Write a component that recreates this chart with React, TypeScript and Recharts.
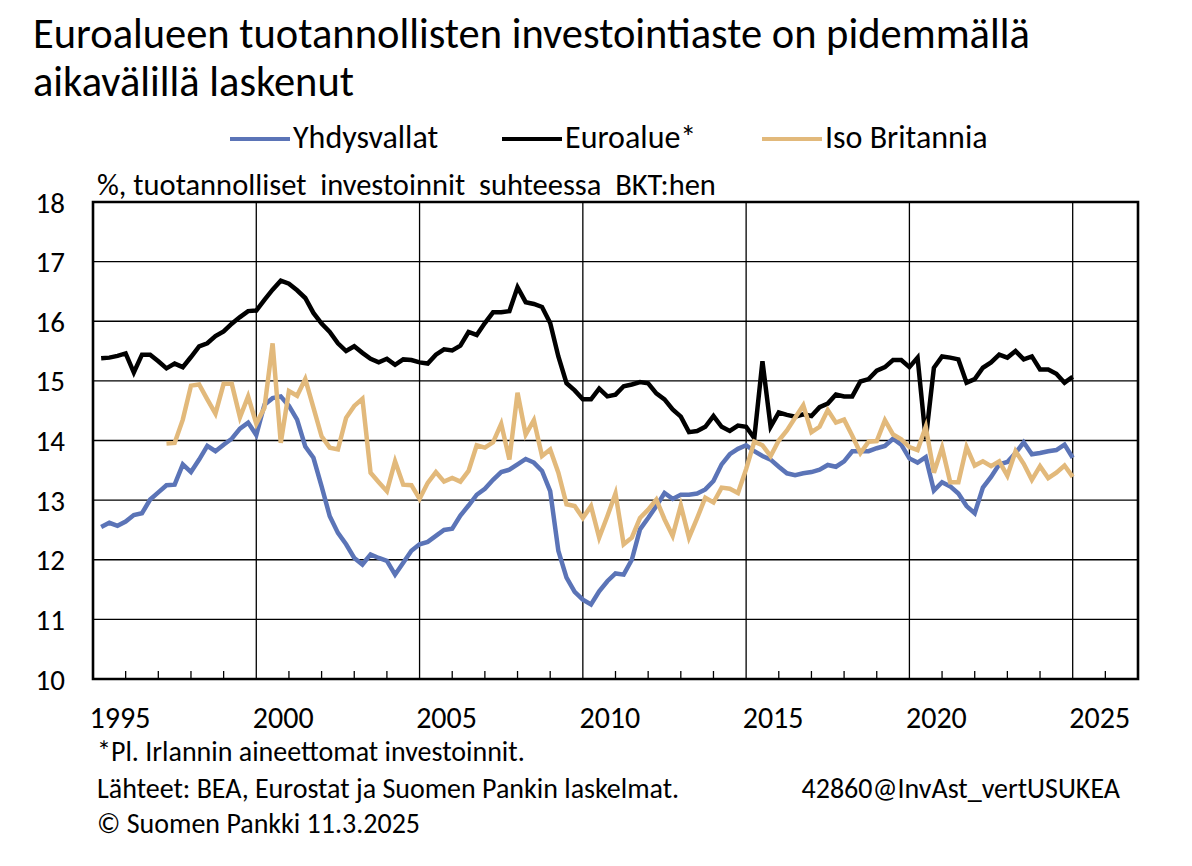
import { LineChart, Line, XAxis, YAxis, CartesianGrid, ReferenceLine, ReferenceArea } from 'recharts'

const FONT = 'Calibri, Carlito, Lato, "Open Sans", sans-serif'

// neljännesvuosittain 1995Q1–2024Q4, % suhteessa BKT:hen
const firstYear = 1995

const usValues = [
    12.55, 12.62, 12.57, 12.64, 12.75, 12.78, 13.01, 13.13, 13.25, 13.26, 13.6, 13.47,
    13.68, 13.91, 13.82, 13.93, 14.03, 14.2, 14.3, 14.09, 14.6, 14.71, 14.74, 14.58,
    14.35, 13.9, 13.71, 13.23, 12.73, 12.45, 12.26, 12.03, 11.92, 12.09, 12.03, 11.98,
    11.75, 11.95, 12.15, 12.26, 12.3, 12.4, 12.5, 12.52, 12.74, 12.91, 13.09, 13.19,
    13.34, 13.47, 13.51, 13.6, 13.69, 13.63, 13.49, 13.15, 12.15, 11.7, 11.46, 11.33,
    11.25, 11.47, 11.64, 11.77, 11.75, 12.0, 12.51, 12.7, 12.9, 13.12, 13.02, 13.09,
    13.09, 13.11, 13.18, 13.32, 13.6, 13.77, 13.86, 13.92, 13.82, 13.74, 13.68, 13.56,
    13.45, 13.42, 13.45, 13.47, 13.51, 13.59, 13.56, 13.65, 13.82, 13.82, 13.82, 13.87,
    13.91, 14.03, 13.93, 13.7, 13.63, 13.72, 13.16, 13.3, 13.23, 13.11, 12.9, 12.78,
    13.21, 13.39, 13.6, 13.64, 13.79, 13.97, 13.77, 13.79, 13.82, 13.84, 13.93, 13.71,
]

const euroValues = [
    15.38, 15.39, 15.42, 15.46, 15.14, 15.44, 15.44, 15.33, 15.21, 15.29, 15.23, 15.4,
    15.58, 15.63, 15.75, 15.83, 15.96, 16.07, 16.17, 16.18, 16.36, 16.53, 16.68, 16.63,
    16.52, 16.39, 16.14, 15.96, 15.82, 15.63, 15.5, 15.58, 15.47, 15.37, 15.31, 15.37,
    15.27, 15.36, 15.35, 15.31, 15.29, 15.44, 15.53, 15.51, 15.59, 15.82, 15.77, 15.97,
    16.15, 16.15, 16.17, 16.57, 16.32, 16.29, 16.24, 15.97, 15.41, 14.96, 14.84, 14.69,
    14.69, 14.87, 14.74, 14.77, 14.91, 14.94, 14.98, 14.96, 14.79, 14.69, 14.52, 14.4,
    14.14, 14.16, 14.23, 14.41, 14.23, 14.16, 14.25, 14.23, 14.04, 15.33, 14.23, 14.47,
    14.43, 14.4, 14.44, 14.41, 14.56, 14.62, 14.77, 14.74, 14.74, 14.99, 15.03, 15.17,
    15.23, 15.35, 15.35, 15.23, 15.39, 14.02, 15.22, 15.41, 15.39, 15.36, 14.97, 15.03,
    15.22, 15.31, 15.44, 15.39, 15.5, 15.36, 15.41, 15.19, 15.19, 15.12, 14.97, 15.07,
]

// Iso-Britannia alkaa 1997Q1
const ukStartIndex = 8
const ukValues = [
    13.95, 13.96, 14.35, 14.92, 14.94, 14.69, 14.45, 14.95, 14.95, 14.39, 14.74, 14.28,
    14.55, 15.63, 13.96, 14.83, 14.75, 15.03, 14.55, 14.07, 13.88, 13.85, 14.38, 14.58,
    14.7, 13.46, 13.3, 13.15, 13.65, 13.26, 13.25, 13.02, 13.29, 13.47, 13.31, 13.37,
    13.31, 13.49, 13.92, 13.88, 13.97, 14.28, 13.68, 14.8, 14.1, 14.34, 13.74, 13.85,
    13.46, 12.93, 12.9, 12.7, 12.9, 12.37, 12.73, 13.11, 12.26, 12.37, 12.7, 12.84,
    13.01, 12.68, 12.4, 12.91, 12.37, 12.7, 13.04, 12.96, 13.21, 13.19, 13.12, 13.52,
    13.98, 13.92, 13.74, 14.0, 14.17, 14.38, 14.59, 14.14, 14.23, 14.51, 14.3, 14.35,
    14.08, 13.79, 13.98, 13.99, 14.34, 14.1, 14.02, 13.89, 13.84, 14.23, 13.46, 13.88,
    13.3, 13.3, 13.89, 13.58, 13.65, 13.57, 13.65, 13.41, 13.82, 13.61, 13.34, 13.57,
    13.37, 13.46, 13.58, 13.39,
]

const yearTicks = [
    1995, 1996, 1997, 1998, 1999, 2000, 2001, 2002, 2003, 2004, 2005, 2006, 2007, 2008, 2009, 2010,
    2011, 2012, 2013, 2014, 2015, 2016, 2017, 2018, 2019, 2020, 2021, 2022, 2023, 2024, 2025, 2026,
]
const gridYears = [2000, 2005, 2010, 2015, 2020, 2025]
const yTicks = [10, 11, 12, 13, 14, 15, 16, 17, 18]

const series = [
    { key: 'us', name: 'Yhdysvallat', color: '#5B74B7' },
    { key: 'euro', name: 'Euroalue*', color: '#000000' },
    { key: 'uk', name: 'Iso Britannia', color: '#E2B97B' },
]

const rows = usValues.map((v, i) => ({
    t: firstYear + (i + 1) / 4,
    us: v,
    euro: euroValues[i],
    uk: i < ukStartIndex ? null : ukValues[i - ukStartIndex],
}))

function XTick({ x, y, payload }: any) {
    const year = payload.value
    if (year % 5 === 0) {
        return (
            <text x={x + 27} y={y + 49} textAnchor="middle" fontSize={30} fontFamily={FONT} fill="#000">
                {year}
            </text>
        )
    }
    return <line x1={x} x2={x} y1={y} y2={y - 8} stroke="#000" strokeWidth={1.3} />
}

function YTick({ x, y, payload }: any) {
    return (
        <text x={x - 28} y={y + 10.5} textAnchor="end" fontSize={29} fontFamily={FONT} fill="#000">
            {payload.value}
        </text>
    )
}

const legendLeft = [230, 502, 762]

export default function App() {
    return (
        <div style={{ position: 'absolute', left: 0, top: 0, width: 1192, height: 866, background: '#fff', fontFamily: FONT, color: '#000' }}>
            <div style={{ position: 'absolute', left: 33, top: 13, fontSize: 42.5, lineHeight: 1, whiteSpace: 'nowrap' }}>
                Euroalueen tuotannollisten investointiaste on pidemmällä
            </div>
            <div style={{ position: 'absolute', left: 33, top: 61, fontSize: 42.5, lineHeight: 1, whiteSpace: 'nowrap' }}>
                aikavälillä laskenut
            </div>

            {series.map((s, i) => (
                <div key={s.key} style={{ position: 'absolute', left: legendLeft[i], top: 122, display: 'flex', alignItems: 'center', fontSize: 32, lineHeight: '32px', whiteSpace: 'nowrap' }}>
                    <span style={{ display: 'inline-block', width: 60, height: 4.5, background: s.color, marginRight: 3, marginTop: 2 }} />
                    {s.name}
                </div>
            ))}

            <div style={{ position: 'absolute', left: 97, top: 170, fontSize: 30.5, lineHeight: 1, whiteSpace: 'pre' }}>
                {'%, tuotannolliset  investoinnit  suhteessa  BKT:hen'}
            </div>

            <div style={{ position: 'absolute', left: 0, top: 0 }}>
                <LineChart width={1192} height={866} data={rows} margin={{ top: 202, right: 54, bottom: 186, left: 92 }}>
                    <CartesianGrid vertical={false} stroke="#000" strokeWidth={1.3} />
                    {gridYears.map((yr) => (
                        <ReferenceLine key={yr} x={yr} stroke="#000" strokeWidth={1.3} />
                    ))}
                    <XAxis
                        dataKey="t"
                        type="number"
                        domain={[1995, 2027]}
                        ticks={yearTicks}
                        interval={0}
                        allowDataOverflow
                        axisLine={false}
                        tickLine={false}
                        tickSize={0}
                        tickMargin={0}
                        height={1}
                        tick={<XTick />}
                    />
                    <YAxis
                        type="number"
                        domain={[10, 18]}
                        ticks={yTicks}
                        interval={0}
                        allowDataOverflow
                        axisLine={false}
                        tickLine={false}
                        tickSize={0}
                        tickMargin={0}
                        width={1}
                        tick={<YTick />}
                    />
                    {series.map((s) => (
                        <Line
                            key={s.key}
                            type="linear"
                            dataKey={s.key}
                            name={s.name}
                            stroke={s.color}
                            strokeWidth={4.5}
                            dot={false}
                            activeDot={false}
                            isAnimationActive={false}
                        />
                    ))}
                    <ReferenceArea x1={1995} x2={2027} y1={10} y2={18} fill="none" fillOpacity={0} stroke="#000" strokeWidth={2.6} />
                </LineChart>
            </div>

            <div style={{ position: 'absolute', left: 97, top: 738, fontSize: 28, lineHeight: 1, whiteSpace: 'nowrap' }}>
                *Pl. Irlannin aineettomat investoinnit.
            </div>
            <div style={{ position: 'absolute', left: 97, top: 775, fontSize: 28, lineHeight: 1, whiteSpace: 'nowrap' }}>
                Lähteet: BEA, Eurostat ja Suomen Pankin laskelmat.
            </div>
            <div style={{ position: 'absolute', right: 72, top: 775, fontSize: 28, lineHeight: 1, whiteSpace: 'nowrap' }}>
                42860@InvAst_vertUSUKEA
            </div>
            <div style={{ position: 'absolute', left: 97, top: 810, fontSize: 28, lineHeight: 1, whiteSpace: 'nowrap' }}>
                © Suomen Pankki 11.3.2025
            </div>
        </div>
    )
}
